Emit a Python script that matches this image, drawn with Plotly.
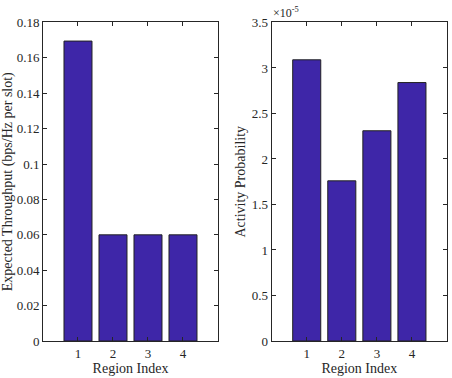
import plotly.graph_objects as go
from plotly.subplots import make_subplots

regions = [1, 2, 3, 4]
throughput = [0.1695, 0.06, 0.06, 0.06]
activity = [3.09e-5, 1.76e-5, 2.31e-5, 2.84e-5]
left_ticks = [0, 0.02, 0.04, 0.06, 0.08, 0.1, 0.12, 0.14, 0.16, 0.18]
left_labels = ["0", "0.02", "0.04", "0.06", "0.08", "0.1", "0.12", "0.14", "0.16", "0.18"]
right_ticks = [0, 0.5e-5, 1e-5, 1.5e-5, 2e-5, 2.5e-5, 3e-5, 3.5e-5]
right_labels = ["0", "0.5", "1", "1.5", "2", "2.5", "3", "3.5"]

bar_color = "#3E26A8"
font_family = "Liberation Serif"
txt_color = "#262626"

fig = make_subplots(rows=1, cols=2)
fig.add_trace(go.Bar(x=regions, y=throughput, width=0.8, marker=dict(color=bar_color, line=dict(color="#222", width=1))), row=1, col=1)
fig.add_trace(go.Bar(x=regions, y=activity, width=0.8, marker=dict(color=bar_color, line=dict(color="#222", width=1))), row=1, col=2)

axis_common = dict(showline=True, linecolor="#262626", linewidth=1, mirror="ticks", ticks="inside",
                   ticklen=4, tickcolor="#262626", showgrid=False, zeroline=False, automargin=False,
                   tickfont=dict(family=font_family, size=13, color=txt_color))
title_font = dict(family=font_family, size=14, color=txt_color)

fig.update_layout(
    width=452, height=378, margin=dict(l=0, r=0, t=0, b=0),
    paper_bgcolor="white", plot_bgcolor="white", showlegend=False,
    font=dict(family=font_family, color=txt_color),
    xaxis=dict(domain=[0.0951, 0.4823], range=[0, 5], tickvals=regions,
               title=dict(text="Region Index", font=title_font, standoff=3), **axis_common),
    xaxis2=dict(domain=[0.601, 0.989], range=[0, 5], tickvals=regions,
                title=dict(text="Region Index", font=title_font, standoff=3), **axis_common),
    yaxis=dict(domain=[0.0979, 0.9405], range=[0, 0.18], tickvals=left_ticks, ticktext=left_labels,
               title=dict(text="Expected Throughput (bps/Hz per slot)", font=title_font, standoff=4), **axis_common),
    yaxis2=dict(domain=[0.0979, 0.9405], range=[0, 3.5e-5], tickvals=right_ticks, ticktext=right_labels,
                title=dict(text="Activity Probability", font=title_font, standoff=2), **axis_common),
)
fig.add_annotation(text="×10<sup>-5</sup>", xref="paper", yref="paper", x=0.599, y=0.9405,
                   xanchor="left", yanchor="bottom", showarrow=False,
                   font=dict(family=font_family, size=12, color=txt_color))
fig.write_html("out.html")
